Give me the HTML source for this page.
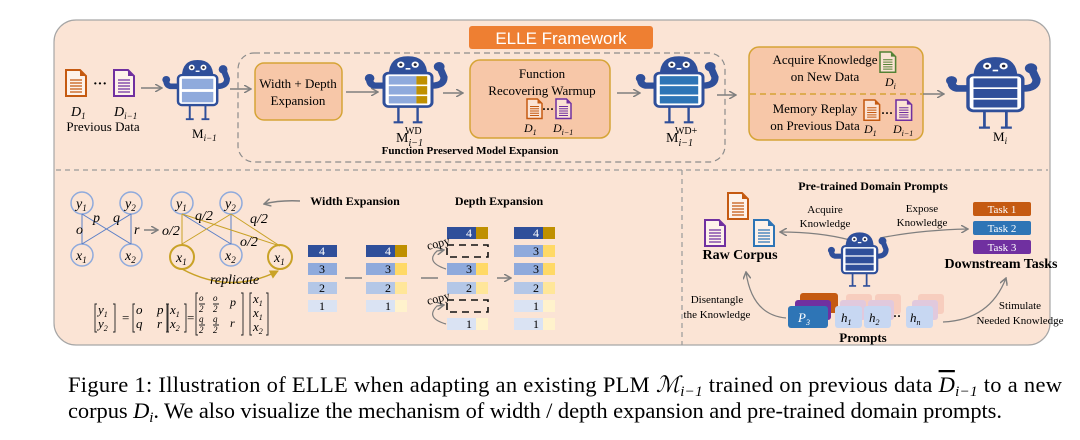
<!DOCTYPE html>
<html><head><meta charset="utf-8"><style>
html,body{margin:0;padding:0;background:#fff;}
svg{display:block;}
text{font-family:"Liberation Serif",serif;}
.s{font-family:"Liberation Sans",sans-serif;}
.i{font-style:italic;}
.b{font-weight:bold;}
</style></head><body>
<svg width="1080" height="440" viewBox="0 0 1080 440" xmlns="http://www.w3.org/2000/svg">
<defs>
<marker id="ar" markerWidth="8" markerHeight="8" refX="7" refY="4" orient="auto" markerUnits="userSpaceOnUse">
<path d="M0,0 L7,4 L0,8" fill="none" stroke="#7f7f7f" stroke-width="1.5"/></marker>
<marker id="ag" markerWidth="9" markerHeight="9" refX="8" refY="4.5" orient="auto" markerUnits="userSpaceOnUse">
<path d="M0,0 L9,4.5 L0,9 Z" fill="#c9a227"/></marker>
<g id="doc">
<path d="M0,0 H14 L20,6 V26 H0 Z" fill="#fff" fill-opacity="0.5" stroke="currentColor" stroke-width="2"/>
<path d="M14,0 V6 H20 Z" fill="currentColor"/>
<path d="M4,10 H16 M4,13 H16 M4,16 H16 M4,19 H16 M4,22 H16" stroke="currentColor" stroke-width="1.3"/>
</g>
<g id="robot">
<path d="M4,2 Q4,-16 20,-16 Q36,-16 36,2 Z" fill="#2f4f9a"/>
<circle cx="14" cy="-8" r="3" fill="#fff"/><circle cx="26" cy="-8" r="3" fill="#fff"/>
<circle cx="14" cy="-8" r="1.3" fill="#223"/><circle cx="26" cy="-8" r="1.3" fill="#223"/>
<path d="M18,-4 H22" stroke="#fff" stroke-width="1.5"/>
<path d="M0,12 L-8,12 Q-12,11 -12,6" fill="none" stroke="#2f4f9a" stroke-width="6" stroke-linecap="round"/>
<circle cx="-12" cy="5" r="4" fill="#2f4f9a"/>
<path d="M40,12 Q50,12 50,4 L47,-4" fill="none" stroke="#2f4f9a" stroke-width="6" stroke-linecap="round"/>
<circle cx="46" cy="-6" r="4.5" fill="#2f4f9a"/>
<path d="M12,32 V47 M28,32 V47 M8,47 H16 M24,47 H32" stroke="#2f4f9a" stroke-width="2"/>
<rect x="0" y="0" width="40" height="32" rx="4" fill="#fff" stroke="#2f4f9a" stroke-width="2.5"/>
</g>
</defs>

<rect x="54" y="20" width="996" height="325" rx="22" fill="#fbe4d5" stroke="#a6a6a6" stroke-width="1.2"/>
<path d="M56,170 H1048" stroke="#9a9a9a" stroke-width="1.2" stroke-dasharray="5,4"/>
<path d="M682,170 V345" stroke="#9a9a9a" stroke-width="1.2" stroke-dasharray="5,4"/>

<rect x="469" y="26" width="184" height="23" rx="3" fill="#ee7f32"/>
<text x="561" y="44" text-anchor="middle" class="s" font-size="17" fill="#fff">ELLE Framework</text>

<use href="#doc" x="66" y="70" style="color:#c55a11"/>
<text x="93" y="88" font-size="14" font-weight="bold">···</text>
<use href="#doc" x="114" y="70" style="color:#7030a0"/>
<text x="71" y="116" font-size="14" class="i">D<tspan font-size="9" dy="3">1</tspan></text>
<text x="114" y="116" font-size="14" class="i">D<tspan font-size="9" dy="3">i−1</tspan></text>
<text x="103" y="131" text-anchor="middle" font-size="13">Previous Data</text>
<path d="M141,88 H162" stroke="#7f7f7f" stroke-width="1.5" marker-end="url(#ar)"/>

<g transform="translate(178,75) scale(0.98,0.94)">
<use href="#robot"/>
<rect x="4" y="4" width="32" height="11" fill="#8faadc"/><rect x="4" y="18" width="32" height="11" fill="#8faadc"/>
</g>
<text x="192" y="138" font-size="13">M<tspan font-size="9" dy="3" class="i">i−1</tspan></text>

<rect x="238" y="53" width="487" height="109" rx="16" fill="none" stroke="#8c8c8c" stroke-width="1.2" stroke-dasharray="6,4"/>
<path d="M230,89 H251" stroke="#7f7f7f" stroke-width="1.5" marker-end="url(#ar)"/>
<rect x="255" y="63" width="87" height="57" rx="9" fill="#f7c7a8" stroke="#d6a436" stroke-width="1.5"/>
<text x="298" y="88" text-anchor="middle" font-size="13">Width + Depth</text>
<text x="298" y="105" text-anchor="middle" font-size="13">Expansion</text>
<path d="M346,92 H378" stroke="#7f7f7f" stroke-width="1.5" marker-end="url(#ar)"/>

<g transform="translate(384,73) scale(1.2,1.05)">
<use href="#robot"/>
<rect x="4" y="3" width="23" height="8" fill="#8faadc"/><rect x="27" y="3" width="9" height="8" fill="#bf9000"/>
<rect x="4" y="12.5" width="23" height="8" fill="#8faadc"/><rect x="27" y="12.5" width="9" height="8" fill="#bf9000"/>
<rect x="4" y="22" width="23" height="7" fill="#8faadc"/><rect x="27" y="22" width="9" height="7" fill="#bf9000"/>
</g>
<text x="396" y="142" font-size="14">M<tspan font-size="10" dy="4" class="i">i−1</tspan><tspan font-size="10" dx="-18" dy="-12">WD</tspan></text>
<path d="M443,93 H463" stroke="#7f7f7f" stroke-width="1.5" marker-end="url(#ar)"/>

<rect x="470" y="60" width="140" height="78" rx="10" fill="#f7c7a8" stroke="#d6a436" stroke-width="1.5"/>
<text x="542" y="78" text-anchor="middle" font-size="13">Function</text>
<text x="542" y="95" text-anchor="middle" font-size="13">Recovering Warmup</text>
<use href="#doc" transform="translate(527,99) scale(0.75)" style="color:#c55a11"/>
<text x="542" y="113" font-size="12" font-weight="bold">···</text>
<use href="#doc" transform="translate(556,99) scale(0.75)" style="color:#7030a0"/>
<text x="524" y="132" font-size="12" class="i">D<tspan font-size="8" dy="3">1</tspan></text>
<text x="553" y="132" font-size="12" class="i">D<tspan font-size="8" dy="3">i−1</tspan></text>
<text x="470" y="154" text-anchor="middle" font-size="11" class="b">Function Preserved Model Expansion</text>
<path d="M617,93 H640" stroke="#7f7f7f" stroke-width="1.5" marker-end="url(#ar)"/>

<g transform="translate(655,73) scale(1.2,1.05)">
<use href="#robot"/>
<rect x="4" y="3" width="32" height="8" fill="#2e75b6"/>
<rect x="4" y="12.5" width="32" height="8" fill="#2e75b6"/>
<rect x="4" y="22" width="32" height="7" fill="#2e75b6"/>
</g>
<text x="666" y="142" font-size="14">M<tspan font-size="10" dy="4" class="i">i−1</tspan><tspan font-size="10" dx="-18" dy="-12">WD+</tspan></text>
<path d="M717,95 H736" stroke="#7f7f7f" stroke-width="1.5" marker-end="url(#ar)"/>

<rect x="749" y="47" width="174" height="93" rx="10" fill="#f7c7a8" stroke="#d6a436" stroke-width="1.5"/>
<path d="M750,94 H922" stroke="#d6a436" stroke-width="1.5" stroke-dasharray="6,4"/>
<text x="825" y="64" text-anchor="middle" font-size="13">Acquire Knowledge</text>
<text x="825" y="81" text-anchor="middle" font-size="13">on New Data</text>
<use href="#doc" transform="translate(880,52) scale(0.78)" style="color:#548235"/>
<text x="885" y="86" font-size="12" class="i">D<tspan font-size="8" dy="3">i</tspan></text>
<text x="815" y="113" text-anchor="middle" font-size="13">Memory Replay</text>
<text x="815" y="130" text-anchor="middle" font-size="13">on Previous Data</text>
<use href="#doc" transform="translate(864,100) scale(0.78)" style="color:#c55a11"/>
<text x="881" y="117" font-size="12" font-weight="bold">···</text>
<use href="#doc" transform="translate(896,100) scale(0.78)" style="color:#7030a0"/>
<text x="864" y="133" font-size="12" class="i">D<tspan font-size="8" dy="3">1</tspan></text>
<text x="893" y="133" font-size="12" class="i">D<tspan font-size="8" dy="3">i−1</tspan></text>
<path d="M923,94 H944" stroke="#7f7f7f" stroke-width="1.5" marker-end="url(#ar)"/>

<g transform="translate(968,75) scale(1.37,1.12)">
<use href="#robot"/>
<rect x="4" y="3" width="32" height="8" fill="#2f4f9a"/>
<rect x="4" y="12.5" width="32" height="8" fill="#2f4f9a"/>
<rect x="4" y="22" width="32" height="7" fill="#2f4f9a"/>
</g>
<text x="993" y="141" font-size="13">M<tspan font-size="9" dy="3" class="i">i</tspan></text>

<g fill="none" stroke="#8faadc" stroke-width="1.5">
<circle cx="82" cy="203" r="11"/><circle cx="131" cy="203" r="11"/>
<circle cx="82" cy="255" r="11"/><circle cx="131" cy="255" r="11"/>
<circle cx="182" cy="203" r="11"/><circle cx="231" cy="203" r="11"/>
<circle cx="231" cy="255" r="11"/>
</g>
<g stroke="#5b7fc7" stroke-width="1">
<path d="M82,214 V244 M131,214 V244 M82,214 L131,244 M131,214 L82,244"/>
<path d="M182,214 L231,244 M231,214 V244"/>
</g>
<g stroke="#c9a227" stroke-width="1">
<path d="M182,214 V244 M231,214 L182,244 M182,214 L280,246 M231,214 L280,246"/>
</g>
<circle cx="182" cy="257" r="12" fill="none" stroke="#c9a227" stroke-width="2"/>
<circle cx="280" cy="257" r="12" fill="none" stroke="#c9a227" stroke-width="2"/>
<path d="M182,269 Q230,295 278,271" fill="none" stroke="#c9a227" stroke-width="1.5" marker-end="url(#ag)"/>
<g font-size="14" class="i">
<text x="76" y="208">y<tspan font-size="9" dy="3">1</tspan></text>
<text x="125" y="208">y<tspan font-size="9" dy="3">2</tspan></text>
<text x="76" y="260">x<tspan font-size="9" dy="3">1</tspan></text>
<text x="125" y="260">x<tspan font-size="9" dy="3">2</tspan></text>
<text x="176" y="208">y<tspan font-size="9" dy="3">1</tspan></text>
<text x="225" y="208">y<tspan font-size="9" dy="3">2</tspan></text>
<text x="176" y="262">x<tspan font-size="9" dy="3">1</tspan></text>
<text x="225" y="260">x<tspan font-size="9" dy="3">2</tspan></text>
<text x="274" y="262">x<tspan font-size="9" dy="3">1</tspan></text>
<text x="93" y="222">p</text><text x="113" y="222">q</text>
<text x="76" y="234">o</text><text x="134" y="234">r</text>
<text x="162" y="235">o/2</text>
<text x="195" y="220">q/2</text><text x="250" y="223">q/2</text>
<text x="240" y="246">o/2</text>
<text x="210" y="284">replicate</text>
</g>
<path d="M144,230 H158" stroke="#7f7f7f" stroke-width="1.5" marker-end="url(#ar)"/>
<g font-size="13" class="i">
<text x="98" y="314">y<tspan font-size="8" dy="3">1</tspan></text>
<text x="98" y="328">y<tspan font-size="8" dy="3">2</tspan></text>
<text x="122" y="322" font-style="normal">=</text>
<text x="136" y="314">o</text><text x="157" y="314">p</text>
<text x="136" y="328">q</text><text x="157" y="328">r</text>
<text x="170" y="314">x<tspan font-size="8" dy="3">1</tspan></text>
<text x="170" y="328">x<tspan font-size="8" dy="3">2</tspan></text>
<text x="187" y="322" font-style="normal">=</text>
<text x="230" y="306" font-size="12">p</text><text x="230" y="327" font-size="12">r</text>
<text x="253" y="303">x<tspan font-size="8" dy="3">1</tspan></text>
<text x="253" y="317">x<tspan font-size="8" dy="3">1</tspan></text>
<text x="253" y="331">x<tspan font-size="8" dy="3">2</tspan></text>
<g font-size="9"><text x="199" y="301">o</text><text x="199" y="312">2</text><text x="213" y="301">o</text><text x="213" y="312">2</text>
<text x="199" y="322">q</text><text x="199" y="333">2</text><text x="213" y="322">q</text><text x="213" y="333">2</text></g>
</g>
<g fill="none" stroke="#222" stroke-width="0.9">
<path d="M97,304 h-2 v28 h2 M113,304 h2 v28 h-2"/>
<path d="M135,304 h-2 v28 h2 M166,304 h2 v28 h-2"/>
<path d="M169,304 h-2 v28 h2 M184,304 h2 v28 h-2"/>
<path d="M198,293 h-2 v42 h2 M241,293 h2 v42 h-2"/>
<path d="M252,293 h-2 v42 h2 M266,293 h2 v42 h-2"/>
<path d="M199,304 h6 M213,304 h6 M199,325 h6 M213,325 h6"/>
</g>

<text x="355" y="205" text-anchor="middle" font-size="12" class="b">Width Expansion</text>
<text x="499" y="205" text-anchor="middle" font-size="12" class="b">Depth Expansion</text>
<path d="M300,201 Q280,200 264,204" fill="none" stroke="#7f7f7f" stroke-width="1.5" marker-end="url(#ar)"/>
<g font-size="12" text-anchor="middle">
<rect x="308" y="245" width="29" height="12" fill="#2f4f9a"/><text x="322" y="255" fill="#fff">4</text>
<rect x="308" y="263" width="29" height="12" fill="#8faadc"/><text x="322" y="273">3</text>
<rect x="308" y="282" width="29" height="12" fill="#b4c7e7"/><text x="322" y="292">2</text>
<rect x="308" y="300" width="29" height="12" fill="#dae3f3"/><text x="322" y="310">1</text>
<rect x="366" y="245" width="29" height="12" fill="#2f4f9a"/><rect x="395" y="245" width="12" height="12" fill="#bf9000"/><text x="388" y="255" fill="#fff">4</text>
<rect x="366" y="263" width="29" height="12" fill="#8faadc"/><rect x="395" y="263" width="12" height="12" fill="#ffd966"/><text x="388" y="273">3</text>
<rect x="366" y="282" width="29" height="12" fill="#b4c7e7"/><rect x="395" y="282" width="12" height="12" fill="#ffe699"/><text x="388" y="292">2</text>
<rect x="366" y="300" width="29" height="12" fill="#dae3f3"/><rect x="395" y="300" width="12" height="12" fill="#fff2cc"/><text x="388" y="310">1</text>
<rect x="447" y="227" width="29" height="12" fill="#2f4f9a"/><rect x="476" y="227" width="12" height="12" fill="#bf9000"/><text x="469" y="237" fill="#fff">4</text>
<rect x="447" y="245" width="41" height="12" fill="none" stroke="#111" stroke-width="1.6" stroke-dasharray="7,5"/>
<rect x="447" y="263" width="29" height="12" fill="#8faadc"/><rect x="476" y="263" width="12" height="12" fill="#ffd966"/><text x="469" y="273">3</text>
<rect x="447" y="282" width="29" height="12" fill="#b4c7e7"/><rect x="476" y="282" width="12" height="12" fill="#ffe699"/><text x="469" y="292">2</text>
<rect x="447" y="300" width="41" height="12" fill="none" stroke="#111" stroke-width="1.6" stroke-dasharray="7,5"/>
<rect x="447" y="318" width="29" height="12" fill="#dae3f3"/><rect x="476" y="318" width="12" height="12" fill="#fff2cc"/><text x="469" y="328">1</text>
<rect x="514" y="227" width="29" height="12" fill="#2f4f9a"/><rect x="543" y="227" width="12" height="12" fill="#bf9000"/><text x="536" y="237" fill="#fff">4</text>
<rect x="514" y="245" width="29" height="12" fill="#8faadc"/><rect x="543" y="245" width="12" height="12" fill="#ffd966"/><text x="536" y="255">3</text>
<rect x="514" y="263" width="29" height="12" fill="#8faadc"/><rect x="543" y="263" width="12" height="12" fill="#ffd966"/><text x="536" y="273">3</text>
<rect x="514" y="282" width="29" height="12" fill="#b4c7e7"/><rect x="543" y="282" width="12" height="12" fill="#ffe699"/><text x="536" y="292">2</text>
<rect x="514" y="300" width="29" height="12" fill="#dae3f3"/><rect x="543" y="300" width="12" height="12" fill="#fff2cc"/><text x="536" y="310">1</text>
<rect x="514" y="318" width="29" height="12" fill="#dae3f3"/><rect x="543" y="318" width="12" height="12" fill="#fff2cc"/><text x="536" y="328">1</text>
</g>
<path d="M345,278 H362 M421,278 H438 M497,278 H511" stroke="#7f7f7f" stroke-width="1.5" marker-end="url(#ar)"/>
<path d="M446,269 Q425,262 437,251 L444,250" fill="none" stroke="#7f7f7f" stroke-width="1.2" marker-end="url(#ar)"/>
<path d="M446,324 Q425,318 437,306 L444,305" fill="none" stroke="#7f7f7f" stroke-width="1.2" marker-end="url(#ar)"/>
<text x="428" y="250" font-size="12" transform="rotate(-15 428 250)">copy</text>
<text x="428" y="305" font-size="12" transform="rotate(-15 428 305)">copy</text>

<text x="873" y="190" text-anchor="middle" font-size="12" class="b">Pre-trained Domain Prompts</text>
<use href="#doc" x="728" y="193" style="color:#c55a11"/>
<use href="#doc" x="705" y="220" style="color:#7030a0"/>
<use href="#doc" x="754" y="220" style="color:#2e75b6"/>
<text x="740" y="259" text-anchor="middle" font-size="14" class="b">Raw Corpus</text>
<text x="825" y="213" text-anchor="middle" font-size="11">Acquire</text>
<text x="825" y="227" text-anchor="middle" font-size="11">Knowledge</text>
<text x="922" y="212" text-anchor="middle" font-size="11">Expose</text>
<text x="922" y="226" text-anchor="middle" font-size="11">Knowledge</text>
<path d="M850,240 Q820,232 780,232" fill="none" stroke="#7f7f7f" stroke-width="1.2" marker-end="url(#ar)"/>
<path d="M880,238 Q920,230 968,229" fill="none" stroke="#7f7f7f" stroke-width="1.2" marker-end="url(#ar)"/>
<rect x="973" y="202" width="58" height="14" rx="2" fill="#c55a11"/><text x="1002" y="213" text-anchor="middle" font-size="11" fill="#fff">Task 1</text>
<rect x="973" y="221" width="58" height="14" rx="2" fill="#2e75b6"/><text x="1002" y="232" text-anchor="middle" font-size="11" fill="#fff">Task 2</text>
<rect x="973" y="240" width="58" height="14" rx="2" fill="#7030a0"/><text x="1002" y="251" text-anchor="middle" font-size="11" fill="#fff">Task 3</text>
<text x="1001" y="268" text-anchor="middle" font-size="14" class="b">Downstream Tasks</text>
<g transform="translate(842,246) scale(0.88,0.85)">
<use href="#robot"/>
<rect x="4" y="3" width="32" height="8" fill="#2f4f9a"/>
<rect x="4" y="12.5" width="32" height="8" fill="#2f4f9a"/>
<rect x="4" y="22" width="32" height="7" fill="#2f4f9a"/>
</g>
<rect x="800" y="293" width="38" height="20" rx="3" fill="#c55a11"/>
<rect x="795" y="300" width="36" height="20" rx="3" fill="#7030a0"/>
<rect x="788" y="306" width="40" height="22" rx="3" fill="#2e75b6"/>
<text x="798" y="322" font-size="13" class="i" fill="#fff">P<tspan font-size="8" dy="3">3</tspan></text>
<g opacity="0.5"><rect x="846" y="294" width="26" height="20" rx="3" fill="#f4b8a8"/><rect x="875" y="294" width="26" height="20" rx="3" fill="#f4b8a8"/><rect x="918" y="294" width="26" height="20" rx="3" fill="#f4b8a8"/>
<rect x="840" y="300" width="26" height="20" rx="3" fill="#c9b0e6"/><rect x="868" y="300" width="26" height="20" rx="3" fill="#c9b0e6"/><rect x="912" y="300" width="26" height="20" rx="3" fill="#c9b0e6"/></g>
<rect x="835" y="306" width="27" height="22" rx="3" fill="#c7d7f2"/>
<rect x="864" y="306" width="27" height="22" rx="3" fill="#c7d7f2"/>
<rect x="906" y="306" width="27" height="22" rx="3" fill="#c7d7f2"/>
<g font-size="13" class="i">
<text x="841" y="322">h<tspan font-size="8" dy="3">1</tspan></text>
<text x="869" y="322">h<tspan font-size="8" dy="3">2</tspan></text>
<text x="910" y="322">h<tspan font-size="8" dy="3">n</tspan></text>
</g>
<text x="893" y="320" font-size="12" font-weight="bold">··</text>
<text x="863" y="342" text-anchor="middle" font-size="13" class="b">Prompts</text>
<text x="717" y="303" text-anchor="middle" font-size="11">Disentangle</text>
<text x="717" y="318" text-anchor="middle" font-size="11">the Knowledge</text>
<text x="1020" y="309" text-anchor="middle" font-size="11">Stimulate</text>
<text x="1020" y="324" text-anchor="middle" font-size="11">Needed Knowledge</text>
<path d="M786,318 Q752,315 746,272" fill="none" stroke="#7f7f7f" stroke-width="1.2" marker-end="url(#ar)"/>
<path d="M943,322 Q990,320 1006,278" fill="none" stroke="#7f7f7f" stroke-width="1.2" marker-end="url(#ar)"/>

<text x="68" y="392" font-size="22.5" textLength="994" lengthAdjust="spacing">Figure 1: Illustration of ELLE when adapting an existing PLM <tspan class="i">ℳ</tspan><tspan font-size="15" dy="4" class="i">i−1</tspan><tspan dy="-4"> trained on previous data </tspan><tspan class="i" text-decoration="overline">D</tspan><tspan font-size="15" dy="4" class="i">i−1</tspan><tspan dy="-4"> to a new</tspan></text>
<text x="68" y="418" font-size="22.5" textLength="934" lengthAdjust="spacing">corpus <tspan class="i">D</tspan><tspan font-size="15" dy="4" class="i">i</tspan><tspan dy="-4">. We also visualize the mechanism of width / depth expansion and pre-trained domain prompts.</tspan></text>
</svg>
</body></html>
